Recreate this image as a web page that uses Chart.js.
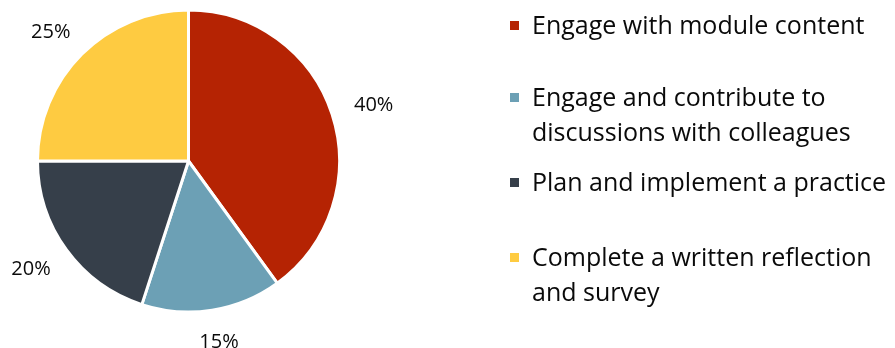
<!DOCTYPE html>
<html>
<head>
<meta charset="utf-8">
<script src="https://cdn.jsdelivr.net/npm/chart.js@4/dist/chart.umd.min.js"></script>
<style>
  html, body { margin: 0; padding: 0; background: #fff; }
  #wrap { position: relative; width: 895px; height: 348px; overflow: hidden; }
  #c { position: absolute; left: 0; top: 0; }
  .item { position: absolute; left: 510px; font-family: "Open Sans", Lato, sans-serif; font-size: 25px; line-height: 35px; color: #0a0a0a; white-space: nowrap; }
  .sq { position: absolute; left: 0; top: 13px; width: 9px; height: 9px; }
  .txt { position: absolute; left: 22px; top: -1px; }
</style>
</head>
<body>
<div id="wrap">
  <canvas id="c" width="895" height="348"></canvas>
  <div id="legend"></div>
</div>
<script>
const categories = [
  "Engage with module content",
  ["Engage and contribute to", "discussions with colleagues"],
  "Plan and implement a practice",
  ["Complete a written reflection", "and survey"]
];
const values = [40, 15, 20, 25];
const valueLabels = ["40%", "15%", "20%", "25%"];
const colors = ["#B52303", "#6CA0B5", "#363F4A", "#FECB41"];

const legendTops = [8, 80, 164.5, 240];

const labelPlugin = {
  id: 'outerLabels',
  afterDatasetsDraw(chart) {
    const ctx = chart.ctx;
    const meta = chart.getDatasetMeta(0);
    ctx.save();
    ctx.font = '20px "Open Sans", Lato, sans-serif';
    ctx.fillStyle = '#0a0a0a';
    ctx.textAlign = 'center';
    ctx.textBaseline = 'middle';
    meta.data.forEach((arc, i) => {
      const p = arc.getProps(['x', 'y', 'startAngle', 'endAngle', 'outerRadius'], true);
      const mid = (p.startAngle + p.endAngle) / 2;
      const r = p.outerRadius + 24;
      const w = ctx.measureText(valueLabels[i]).width, h = 16;
      const cx = p.x + Math.cos(mid) * r + Math.cos(mid) * w / 2;
      const cy = p.y + Math.sin(mid) * r + Math.sin(mid) * h / 2;
      ctx.fillText(valueLabels[i], cx, cy + 1);
    });
    ctx.restore();
  }
};

const chart = new Chart(document.getElementById('c'), {
  type: 'pie',
  data: {
    labels: categories,
    datasets: [{
      data: values,
      backgroundColor: colors,
      borderColor: '#ffffff',
      borderWidth: 3,
      radius: 151
    }]
  },
  options: {
    responsive: false,
    animation: false,
    layout: { padding: { left: 0, right: 518, top: 0, bottom: 26 } },
    plugins: { legend: { display: false }, tooltip: { enabled: false } }
  },
  plugins: [labelPlugin]
});

const legend = document.getElementById('legend');
categories.forEach((lab, i) => {
  const item = document.createElement('div');
  item.className = 'item';
  item.style.top = legendTops[i] + 'px';
  const sq = document.createElement('div');
  sq.className = 'sq';
  sq.style.background = colors[i];
  const txt = document.createElement('div');
  txt.className = 'txt';
  txt.innerHTML = (Array.isArray(lab) ? lab : [lab]).join('<br>');
  item.appendChild(sq);
  item.appendChild(txt);
  legend.appendChild(item);
});
</script>
</body>
</html>
